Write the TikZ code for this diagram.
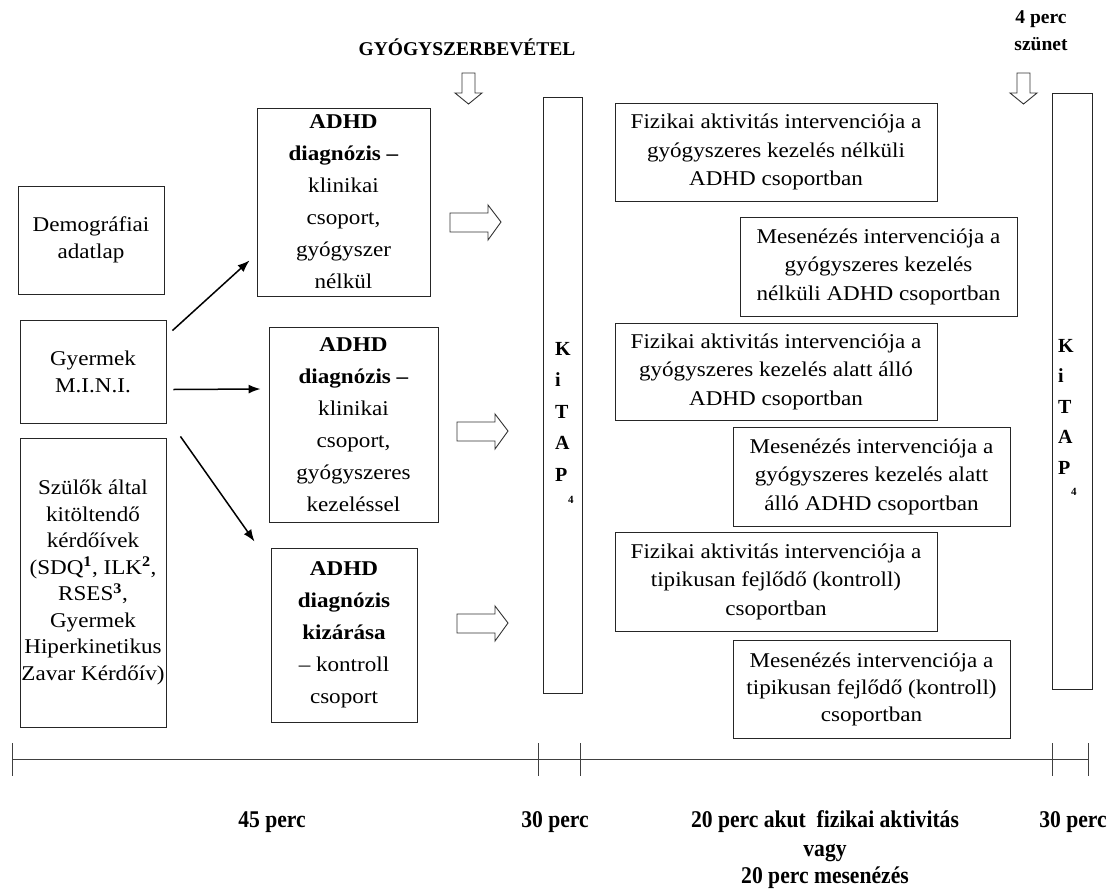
\documentclass[tikz,border=0pt]{standalone}
\usepackage{fontspec}
\setmainfont{Liberation Serif}[FakeStretch=1.1]
\newfontfamily\hdfont{Liberation Serif}
\newfontfamily\lblfont{Liberation Serif}[FakeStretch=0.9]
\usetikzlibrary{calc,arrows.meta}
\begin{document}
\begin{tikzpicture}[x=1pt,y=-1pt,
  box/.style={draw=black!85, line width=0.9pt, align=center, inner sep=0pt, text=black},
  rbox/.style={box, font=\fontsize{21}{28.5}\selectfont},
  lbox/.style={box, font=\fontsize{21}{27}\selectfont},
  mbox/.style={box, font=\fontsize{21}{32}\selectfont},
  kbox/.style={box, minimum width=39pt, minimum height=596pt},
  ktext/.style={align=left, inner sep=0pt, anchor=north west, font=\hdfont\bfseries\fontsize{20}{31.5}\selectfont},
  conn/.style={line width=1.5pt, draw=black, -{Latex[length=12pt,width=9pt]}},
  hol/.style={draw=black!80, line width=0.9pt, fill=white},
  tl/.style={draw=black!75, line width=0.8pt},
  hd/.style={font=\hdfont\bfseries\fontsize{19.5}{25}\selectfont, inner sep=0pt, align=center},
  lbl/.style={font=\lblfont\bfseries\fontsize{24}{30}\selectfont, inner sep=0pt, align=center}]
\useasboundingbox[fill=white] (0,0) rectangle (1110,891);

% header
\node[hd] (hgy) at (467,47) {GYÓGYSZERBEVÉTEL};
\node[hd] (h4a) at (1041,19) {4 perc};
\node[hd] (h4b) at (1041,44) {szünet};
\draw[hol] (462,73) -- (475,73) -- (475,93) -- (482,93) -- (468.5,104) -- (455,93) -- (462,93) -- cycle;
\draw[hol] (1017,73) -- (1030,73) -- (1030,93) -- (1037,93) -- (1023.5,104) -- (1010,93) -- (1017,93) -- cycle;

% left column
\node[lbox, minimum width=146pt, minimum height=108pt] (demo) at (91,240) {Demográfiai\\adatlap};
\node[lbox, minimum width=146pt, minimum height=103pt] (mini) at (93,371.5) {Gyermek\\M.I.N.I.};
\node[box, font=\fontsize{21}{26.5}\selectfont, minimum width=146pt, minimum height=289pt] (szulo) at (93,582.5)
  {Szülők által\\kitöltendő\\kérdőívek\\(SDQ\textsuperscript{\textbf{1}}, ILK\textsuperscript{\textbf{2}},\\RSES\textsuperscript{\textbf{3}},\\Gyermek\\Hiperkinetikus\\Zavar Kérdőív)};

% middle column
\node[mbox, minimum width=173pt, minimum height=188pt] (b1) at (343.5,202)
  {\textbf{ADHD}\\\textbf{diagnózis –}\\klinikai\\csoport,\\gyógyszer\\nélkül};
\node[mbox, minimum width=169pt, minimum height=195pt] (b2) at (353.5,424.5)
  {\textbf{ADHD}\\\textbf{diagnózis –}\\klinikai\\csoport,\\gyógyszeres\\kezeléssel};
\node[mbox, minimum width=146pt, minimum height=174pt] (b3) at (344,635)
  {\textbf{ADHD}\\\textbf{diagnózis}\\\textbf{kizárása}\\– kontroll\\csoport};

% connectors
\draw[conn] ($(mini.north east)+(6,11)$) -- ($(b1.south west)+(-7,-36)$);
\draw[conn] ($(mini.east)+(7,18)$) -- ($(b2.west)+(-8,-35.5)$);
\draw[conn] ($(mini.south east)+(14,13)$) -- ($(b3.north west)+(-16,-6)$);

% hollow right arrows
\draw[hol] (450,213) -- ++(38,0) -- ++(0,-8) -- ++(13,17) -- ++(-13,18) -- ++(0,-8) -- ++(-38,0) -- cycle;
\draw[hol] (457,422) -- ++(38,0) -- ++(0,-8) -- ++(13,17) -- ++(-13,18) -- ++(0,-8) -- ++(-38,0) -- cycle;
\draw[hol] (457,614) -- ++(38,0) -- ++(0,-8) -- ++(13,17) -- ++(-13,18) -- ++(0,-8) -- ++(-38,0) -- cycle;

% KiTAP columns
\node[kbox] (k1) at (562.5,395.5) {};
\node[ktext] (k1t) at (555,342) {K\\i\\T\\A\\P\\[-9pt]\hspace*{13pt}\fontsize{11}{11}\selectfont 4};
\node[kbox, minimum width=40pt] (k2) at (1072,391) {};
\node[ktext, font=\hdfont\bfseries\fontsize{20}{30.5}\selectfont] (k2t) at (1058,339) {K\\i\\T\\A\\P\\[-9pt]\hspace*{13pt}\fontsize{11}{11}\selectfont 4};

% right column
\node[rbox, minimum width=322pt, minimum height=98pt] (f1) at (776,152)
  {Fizikai aktivitás intervenciója a\\gyógyszeres kezelés nélküli\\ADHD csoportban};
\node[rbox, minimum width=277pt, minimum height=99pt] (m1) at (878.5,266.5)
  {Mesenézés intervenciója a\\gyógyszeres kezelés\\nélküli ADHD csoportban};
\node[rbox, minimum width=322pt, minimum height=97pt] (f2) at (776,371.5)
  {Fizikai aktivitás intervenciója a\\gyógyszeres kezelés alatt álló\\ADHD csoportban};
\node[rbox, minimum width=277pt, minimum height=99pt] (m2) at (871.5,476.5)
  {Mesenézés intervenciója a\\gyógyszeres kezelés alatt\\álló ADHD csoportban};
\node[rbox, minimum width=322pt, minimum height=99pt] (f3) at (776,581.5)
  {Fizikai aktivitás intervenciója a\\tipikusan fejlődő (kontroll)\\csoportban};
\node[rbox, font=\fontsize{21}{27}\selectfont, minimum width=277pt, minimum height=98pt] (m3) at (871.5,689)
  {Mesenézés intervenciója a\\tipikusan fejlődő (kontroll)\\csoportban};

% timeline
\draw[tl] (12,759) -- (1088,759);
\foreach \tx in {12,538,580,1052,1088} \draw[tl] (\tx,743) -- (\tx,776);

\node[lbl] (t45) at (272,822) {45 perc};
\node[lbl] (t30a) at (555,822) {30 perc};
\node[lbl] (t20a) at (825,822) {20 perc akut\ \ fizikai aktivitás};
\node[lbl] (tvagy) at (825,853) {vagy};
\node[lbl] (t20b) at (825,878) {20 perc mesenézés};
\node[lbl] (t30b) at (1073,822) {30 perc};
\end{tikzpicture}
\end{document}
